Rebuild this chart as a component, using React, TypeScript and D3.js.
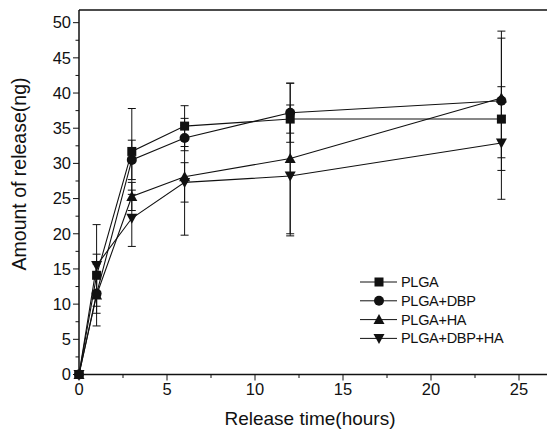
import React from "react";
import * as d3 from "d3";

const times = [0, 1, 3, 6, 12, 24];
const seriesNames = ["PLGA", "PLGA+DBP", "PLGA+HA", "PLGA+DBP+HA"];
const symbols = ["square", "circle", "triangle", "invtriangle"];
const plgaValues = [0, 14.1, 31.7, 35.3, 36.3, 36.3];
const plgaErrors = [0, 3.0, 6.1, 2.9, 2.0, 0.5];
const dbpValues = [0, 11.5, 30.5, 33.6, 37.2, 38.9];
const dbpErrors = [0, 2.8, 2.8, 1.8, 4.2, 9.9];
const haValues = [0, 11.3, 25.3, 28.1, 30.7, 39.3];
const haErrors = [0, 4.4, 2.0, 8.3, 10.7, 8.5];
const dbphaValues = [0, 15.5, 22.2, 27.3, 28.2, 32.9];
const dbphaErrors = [0, 5.8, 4.0, 2.8, 8.5, 8.0];
const xTicks = [0, 5, 10, 15, 20, 25];
const yTicks = [0, 5, 10, 15, 20, 25, 30, 35, 40, 45, 50];

const values = [plgaValues, dbpValues, haValues, dbphaValues];
const errors = [plgaErrors, dbpErrors, haErrors, dbphaErrors];

const W = 547, H = 432;
const x = d3.scaleLinear().domain([0, 27]).range([79, 79 + 27 * 17.6]);
const y = d3.scaleLinear().domain([0, 51.8]).range([374.5, 10]);

const font = "'Liberation Sans', Arial, sans-serif";
const ink = "#111";

function Marker({ type, cx, cy }: { type: string; cx: number; cy: number }) {
  if (type === "square") return <rect x={cx - 4.5} y={cy - 4.5} width={9} height={9} fill={ink} />;
  if (type === "circle") return <circle cx={cx} cy={cy} r={5} fill={ink} />;
  if (type === "triangle")
    return <path d={`M${cx},${cy - 5.5}L${cx + 5.5},${cy + 4.5}L${cx - 5.5},${cy + 4.5}Z`} fill={ink} />;
  return <path d={`M${cx},${cy + 5.5}L${cx + 5.5},${cy - 4.5}L${cx - 5.5},${cy - 4.5}Z`} fill={ink} />;
}

export default function App() {
  const line = d3.line<number>().x((_, i) => x(times[i])).y((v) => y(v));
  const yMinor = d3.range(0, 52, 2.5);
  const xMinor = d3.range(0, 27.1, 2.5);
  return (
    <svg width={W} height={H} style={{ position: "absolute", left: 0, top: 0, background: "#fff" }}>
      {/* frame */}
      <line x1={x(0)} x2={x(0)} y1={y(0)} y2={y(51.8)} stroke={ink} strokeWidth={1.5} />
      <line x1={x(0)} x2={W} y1={y(0)} y2={y(0)} stroke={ink} strokeWidth={1.5} />
      <line x1={x(0)} x2={W} y1={y(51.8)} y2={y(51.8)} stroke={ink} strokeWidth={1.5} />
      {/* y ticks */}
      {yMinor.map((t) => (
        <line key={"ym" + t} x1={x(0)} x2={x(0) - (t % 5 === 0 ? 6 : 3.5)} y1={y(t)} y2={y(t)} stroke={ink} strokeWidth={1} />
      ))}
      {yTicks.map((t) => (
        <text key={"yt" + t} x={x(0) - 8} y={y(t)} dy="0.35em" textAnchor="end" fontSize={16.5} fontFamily={font} fill={ink}>
          {t}
        </text>
      ))}
      {/* x ticks */}
      {xMinor.map((t) => (
        <line key={"xm" + t} x1={x(t)} x2={x(t)} y1={y(0)} y2={y(0) + (t % 5 === 0 ? 6 : 3.5)} stroke={ink} strokeWidth={1} />
      ))}
      {xTicks.map((t) => (
        <text key={"xt" + t} x={x(t)} y={395} textAnchor="middle" fontSize={16.5} fontFamily={font} fill={ink}>
          {t}
        </text>
      ))}
      <text x={310} y={425} textAnchor="middle" fontSize={19} fontFamily={font} fill={ink}>
        Release time(hours)
      </text>
      <text transform="translate(26,174) rotate(-90)" textAnchor="middle" fontSize={19.5} fontFamily={font} fill={ink}>
        Amount of release(ng)
      </text>
      {/* error bars */}
      {values.map((vals, s) =>
        vals.map((v, i) => {
          const e = errors[s][i];
          if (!e) return null;
          const cx = x(times[i]);
          return (
            <g key={`e${s}-${i}`} stroke={ink} strokeWidth={1}>
              <line x1={cx} x2={cx} y1={y(v - e)} y2={y(v + e)} />
              <line x1={cx - 4} x2={cx + 4} y1={y(v - e)} y2={y(v - e)} />
              <line x1={cx - 4} x2={cx + 4} y1={y(v + e)} y2={y(v + e)} />
            </g>
          );
        })
      )}
      {/* lines */}
      {values.map((vals, s) => (
        <path key={"l" + s} d={line(vals) || ""} fill="none" stroke={ink} strokeWidth={1.1} />
      ))}
      {values.map((vals, s) =>
        vals.map((v, i) => <Marker key={`m${s}-${i}`} type={symbols[s]} cx={x(times[i])} cy={y(v)} />)
      )}
      {/* legend */}
      {seriesNames.map((name, s) => {
        const ly = 282 + s * 18.8;
        return (
          <g key={"lg" + s}>
            <line x1={360} x2={397} y1={ly} y2={ly} stroke={ink} strokeWidth={1} />
            <Marker type={symbols[s]} cx={379} cy={ly} />
            <text x={401} y={ly} dy="0.35em" fontSize={14.5} fontFamily={font} fill={ink} letterSpacing={-0.3}>
              {name}
            </text>
          </g>
        );
      })}
    </svg>
  );
}
